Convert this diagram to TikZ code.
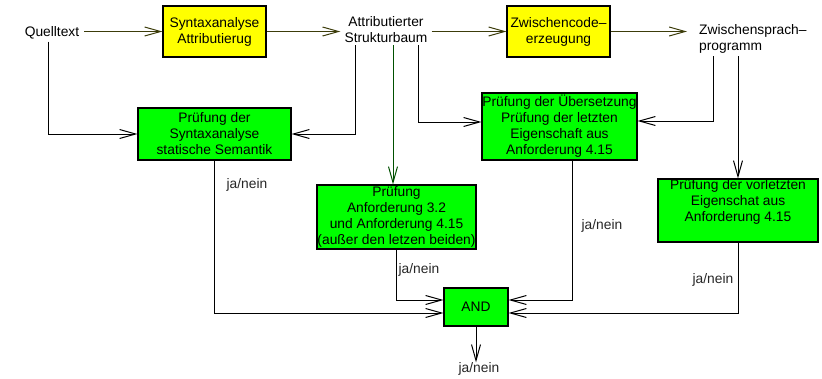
\documentclass[tikz,border=0pt]{standalone}
\usepackage{fontspec}
\setmainfont{Liberation Sans}
\usetikzlibrary{arrows.meta}
\definecolor{boxyellow}{RGB}{255,255,0}
\definecolor{boxgreen}{RGB}{0,255,0}
\definecolor{olive}{RGB}{60,60,10}
\definecolor{darkgr}{RGB}{0,80,0}
\begin{document}
\begin{tikzpicture}[x=1pt,y=-1pt,
  every node/.style={font=\fontsize{13.8}{16}\selectfont, align=center},
  box/.style={draw=black, line width=1.1pt, inner sep=0pt, text=black},
  ybox/.style={box, fill=boxyellow},
  gbox/.style={box, fill=boxgreen},
  txt/.style={inner sep=2pt},
  lbl/.style={inner sep=0pt, text=black!85},
  conn/.style={line width=1pt, -{Straight Barb[length=16pt,width=9pt,line width=1pt]}},
  plain/.style={line width=1pt}
]
\useasboundingbox (0,0) rectangle (822,378);

% text nodes
\node[txt] (q) at (52,33) {Quelltext};
\node[txt] (asb) at (386,30) {Attributierter\\Strukturbaum};
\node[txt, anchor=west, align=left] (zsp) at (697,38.5) {Zwischensprach–\\programm};

% boxes
\node[ybox, minimum width=103pt, minimum height=51pt] (sa) at (214.5,31.5) {Syntaxanalyse\\Attributierug};
\node[ybox, minimum width=103pt, minimum height=51pt] (zc) at (558.5,31.5) {Zwischencode–\\erzeugung};
\node[gbox, minimum width=153pt, minimum height=52pt] (pss) at (214.5,134) {Prüfung der\\Syntaxanalyse\\statische Semantik};
\node[gbox, minimum width=159pt, minimum height=64pt] (pa) at (396.5,217) {Prüfung\\Anforderung 3.2\\und Anforderung 4.15\\(außer den letzen beiden)};
\node[gbox, minimum width=155pt, minimum height=67pt] (pu) at (559.5,126.5) {Prüfung der Übersetzung\\Prüfung der letzten\\Eigenschaft aus\\Anforderung 4.15};
\node[gbox, minimum width=160pt, minimum height=63pt] (pv) at (738,210.5) {Prüfung der vorletzten\\Eigenschat aus\\Anforderung 4.15\\[4pt]};
\node[gbox, minimum width=64pt, minimum height=38pt] (and) at (476,307) {AND};

% labels
\node[lbl] (l1) at (247,185) {ja/nein};
\node[lbl] (l2) at (419,270) {ja/nein};
\node[lbl] (l3) at (602,226) {ja/nein};
\node[lbl] (l4) at (713,280) {ja/nein};
\node[lbl] (jn) at (479,369) {ja/nein};

% top row
\draw[conn, olive] ([xshift=3pt]q.east |- sa.west) -- (sa.west);
\draw[conn, olive] (sa.east) -- ([xshift=-2pt]asb.west |- sa.east);
\draw[conn, olive] ([xshift=2pt]asb.east |- zc.west) -- (zc.west);
\draw[conn, olive] (zc.east) -- ([xshift=-10pt]zsp.west |- zc.east);

% down to checks
\draw[conn] ([xshift=-4pt]q.south) |- (pss.west);
\draw[conn] ([xshift=-31pt]asb.south) |- (pss.east);
\draw[conn, darkgr] ([xshift=7pt]asb.south) -- ([xshift=7pt]asb.south |- pa.north);
\draw[conn] ([xshift=32pt]asb.south) |- ([yshift=4.5pt]pu.west);
\draw[conn] ([xshift=16pt,yshift=-1pt]zsp.south west) |- ([yshift=5.5pt]pu.east);
\draw[conn] ([xshift=41pt,yshift=-1pt]zsp.south west) -- ([xshift=41pt]zsp.south west |- pv.north);

% results to AND
\draw[conn] (pss.south) |- ([yshift=-6pt]and.west);
\draw[conn] (pa.south) |- ([yshift=7pt]and.west);
\draw[conn] ([xshift=12.5pt]pu.south) |- ([yshift=7pt]and.east);
\draw[conn] (pv.south) |- ([yshift=-6pt]and.east);
\draw[conn] (and.south) -- (and.south |- jn.north);
\end{tikzpicture}
\end{document}
